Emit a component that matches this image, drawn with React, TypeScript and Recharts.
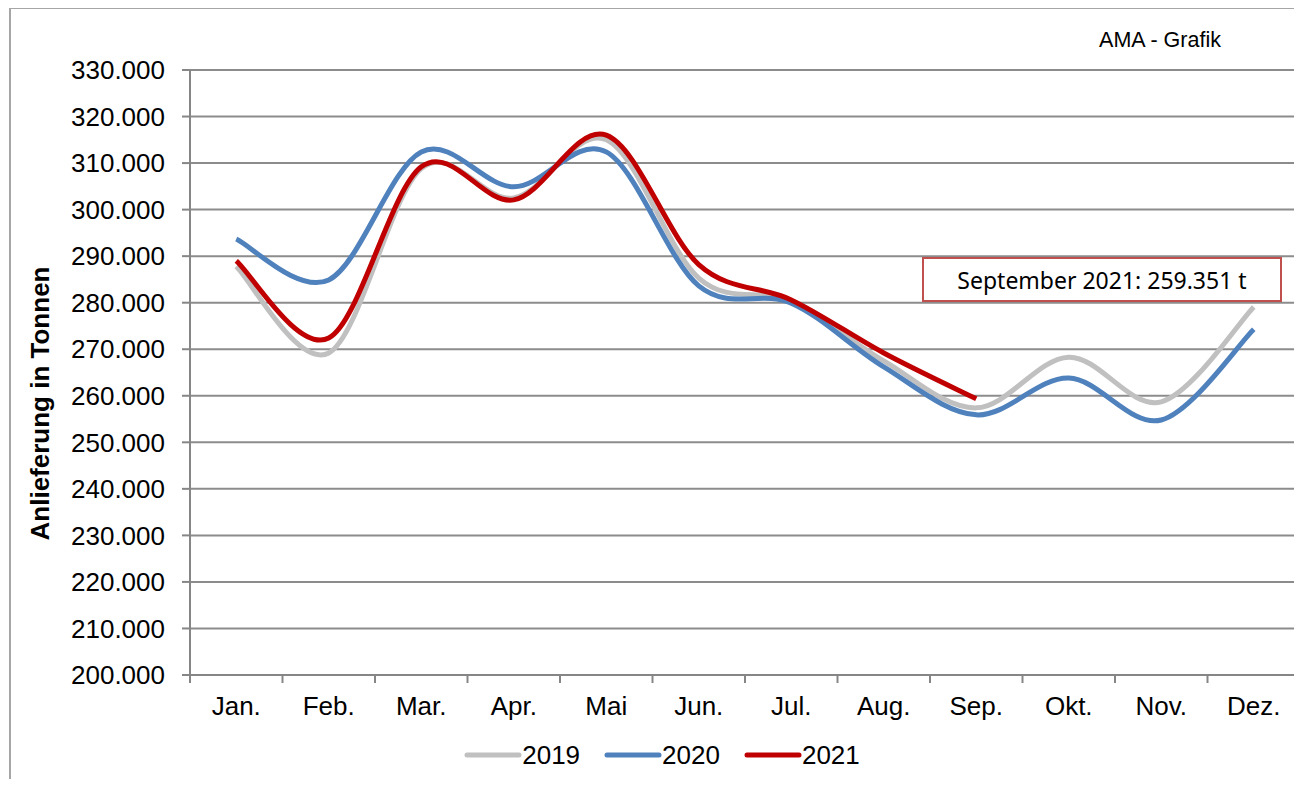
import React from 'react'
import { LineChart, Line, XAxis, YAxis, CartesianGrid, Legend } from 'recharts'

const months = ['Jan.', 'Feb.', 'Mar.', 'Apr.', 'Mai', 'Jun.', 'Jul.', 'Aug.', 'Sep.', 'Okt.', 'Nov.', 'Dez.']
const values2019 = [287800, 269200, 308800, 302500, 315000, 285300, 280300, 267500, 257400, 268300, 258700, 279100]
const values2020 = [293700, 284900, 312400, 304900, 312400, 283600, 279900, 266200, 255900, 263800, 254800, 274300]
const values2021 = [289000, 272400, 309200, 302100, 316000, 288200, 280600, 269200, 259351, null, null, null]
const yTicks = [200000, 210000, 220000, 230000, 240000, 250000, 260000, 270000, 280000, 290000, 300000, 310000, 320000, 330000]

const data = months.map((month, i) => ({
  month,
  y2019: values2019[i],
  y2020: values2020[i],
  y2021: values2021[i],
}))

const W = 1302
const H = 787
const AXIS_W = 190
const RIGHT = 2
const BAND = (W - AXIS_W - RIGHT) / months.length
const FONT = '"Liberation Sans", Arial, sans-serif'
const AXIS_GRAY = '#868686'
const TICK_SIZE = 8
const TICK_MARGIN = 14

const fmt = (v: number) => {
  const s = Math.round(v).toString()
  return s.replace(/\B(?=(\d{3})+(?!\d))/g, '.')
}

// Excel-style smoothed line (uniform Catmull-Rom through the points)
function excelCurve(context: any) {
  let pts: number[][] = []
  return {
    areaStart() {},
    areaEnd() {},
    lineStart() {
      pts = []
    },
    point(x: number, y: number) {
      pts.push([+x, +y])
    },
    lineEnd() {
      if (!pts.length) return
      context.moveTo(pts[0][0], pts[0][1])
      if (pts.length === 1) {
        context.lineTo(pts[0][0], pts[0][1])
        return
      }
      for (let i = 0; i < pts.length - 1; i++) {
        const p0 = pts[i - 1] || pts[i]
        const p1 = pts[i]
        const p2 = pts[i + 1]
        const p3 = pts[i + 2] || p2
        context.bezierCurveTo(
          p1[0] + (p2[0] - p0[0]) / 6,
          p1[1] + (p2[1] - p0[1]) / 6,
          p2[0] - (p3[0] - p1[0]) / 6,
          p2[1] - (p3[1] - p1[1]) / 6,
          p2[0],
          p2[1]
        )
      }
    },
  }
}

function MonthTick(props: any) {
  const { x, y, payload, index } = props
  const top = y - TICK_SIZE - TICK_MARGIN
  const isLast = index === months.length - 1
  return (
    <g>
      <line x1={x - BAND / 2} x2={x - BAND / 2} y1={top} y2={top + TICK_SIZE} stroke={AXIS_GRAY} strokeWidth={2} />
      {isLast && (
        <line x1={x + BAND / 2} x2={x + BAND / 2} y1={top} y2={top + TICK_SIZE} stroke={AXIS_GRAY} strokeWidth={2} />
      )}
      <text x={x} y={y} dy="0.71em" textAnchor="middle" fontSize={26} fontFamily={FONT} fill="#000">
        {payload.value}
      </text>
    </g>
  )
}

function YLabel(props: any) {
  const { x, y, height } = props.viewBox
  const cx = x + 40
  const cy = y + height / 2 + 31
  return (
    <text
      x={cx}
      y={cy}
      transform={`rotate(-90 ${cx} ${cy})`}
      textAnchor="middle"
      dominantBaseline="central"
      fontSize={26}
      fontWeight="bold"
      fontFamily={FONT}
      fill="#000"
    >
      Anlieferung in Tonnen
    </text>
  )
}

function LegendRow(props: any) {
  const { payload = [] } = props
  return (
    <div style={{ display: 'flex', justifyContent: 'center', paddingLeft: 24, height: 30, alignItems: 'center' }}>
      {payload.map((p: any, i: number) => (
        <div key={p.value} style={{ display: 'flex', alignItems: 'center', marginLeft: i ? 24 : 0 }}>
          <svg width={58} height={10}>
            <line x1={3} x2={55} y1={5} y2={5} stroke={p.color} strokeWidth={5} strokeLinecap="round" />
          </svg>
          <span style={{ fontSize: 26, fontFamily: FONT, color: '#000', lineHeight: '30px' }}>{p.value}</span>
        </div>
      ))}
    </div>
  )
}

export default function App() {
  const last2021 = values2021.filter((v) => v != null).slice(-1)[0] as number
  return (
    <div style={{ position: 'relative', width: W, height: H, margin: -8, overflow: 'hidden', background: '#fff' }}>
      <div
        style={{
          position: 'absolute',
          left: 9,
          top: 7,
          width: 1400,
          height: 900,
          border: '2px solid #a6a6a6',
        }}
      />
      <div style={{ position: 'absolute', top: 0, left: 0 }}>
        <LineChart width={W} height={H} data={data} margin={{ top: 70, right: RIGHT, left: 0, bottom: 17 }}>
          <CartesianGrid
            stroke="#8c8c8c"
            strokeWidth={2}
            verticalCoordinatesGenerator={(p: any) => [p.offset.left + p.offset.width]}
          />
          <XAxis
            dataKey="month"
            interval={0}
            height={65}
            padding={{ left: BAND / 2, right: BAND / 2 }}
            axisLine={{ stroke: AXIS_GRAY, strokeWidth: 2 }}
            tickLine={false}
            tickSize={TICK_SIZE}
            tickMargin={TICK_MARGIN}
            tick={<MonthTick />}
          />
          <YAxis
            width={AXIS_W}
            domain={[200000, 330000]}
            ticks={yTicks}
            interval={0}
            tickFormatter={fmt}
            axisLine={{ stroke: AXIS_GRAY, strokeWidth: 2 }}
            tickLine={{ stroke: AXIS_GRAY, strokeWidth: 2 }}
            tickSize={8}
            tickMargin={17}
            tick={{ fontSize: 26, fontFamily: FONT, fill: '#000' }}
            label={<YLabel />}
          />
          <Legend verticalAlign="bottom" content={<LegendRow />} />
          <Line dataKey="y2019" name="2019" type={excelCurve as any} stroke="#c0c0c0" strokeWidth={5} dot={false} activeDot={false} isAnimationActive={false} />
          <Line dataKey="y2020" name="2020" type={excelCurve as any} stroke="#4f81bd" strokeWidth={5} dot={false} activeDot={false} isAnimationActive={false} />
          <Line dataKey="y2021" name="2021" type={excelCurve as any} stroke="#c00000" strokeWidth={5} dot={false} activeDot={false} isAnimationActive={false} />
        </LineChart>
      </div>
      <div
        style={{
          position: 'absolute',
          left: 1060,
          top: 28,
          width: 200,
          textAlign: 'center',
          fontSize: 21.5,
          fontFamily: FONT,
          color: '#000',
        }}
      >
        AMA - Grafik
      </div>
      <div
        style={{
          position: 'absolute',
          left: 922,
          top: 257,
          width: 356,
          height: 41,
          border: '2px solid #c0504d',
          background: '#fff',
          display: 'flex',
          alignItems: 'center',
          justifyContent: 'center',
          fontSize: 23,
          fontFamily: '"Noto Sans", sans-serif',
          color: '#000',
        }}
      >
        September 2021: {fmt(last2021)} t
      </div>
    </div>
  )
}
